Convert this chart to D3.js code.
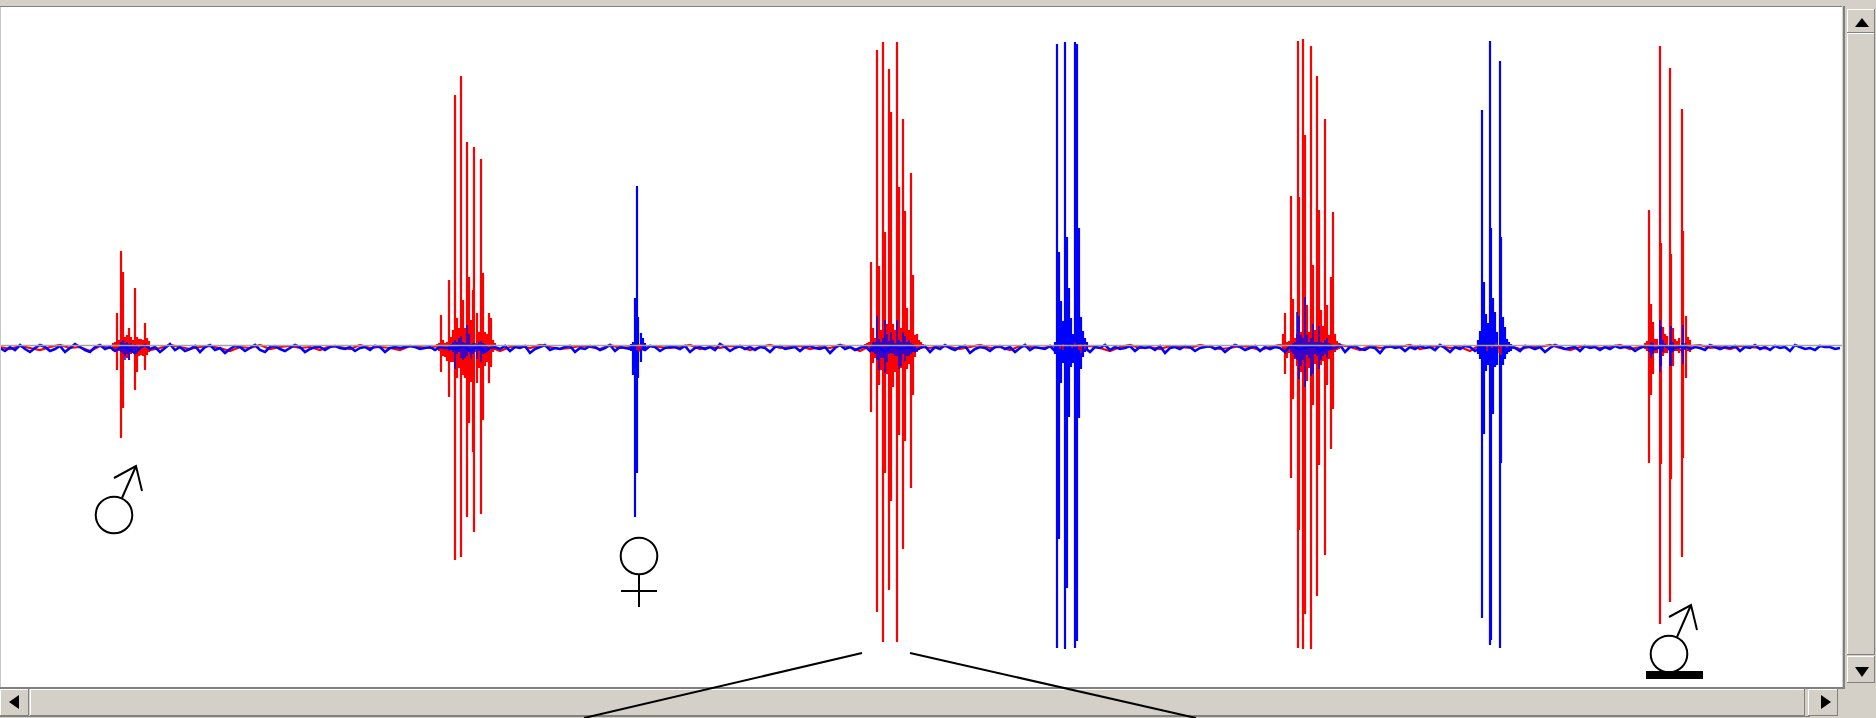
<!DOCTYPE html>
<html>
<head>
<meta charset="utf-8">
<script src="https://cdn.jsdelivr.net/npm/d3@7/dist/d3.min.js"></script>
<style>html,body{margin:0;padding:0;background:#fff;overflow:hidden}svg{display:block;filter:blur(.4px)}</style>
</head>
<body>
<svg id="chart" width="1876" height="718"></svg>
<script>
// Male, male, male and male-on-bar bursts: red channel
const redTimes=[113,115,117,119,121,123,125,127,129,131,133,135,137,139,141,143,145,147,149,
437,439,441,443,445,447,449,451,453,455,457,459,461,463,465,467,469,471,473,474,477,479,481,483,485,487,489,491,493,495,
865,867,869,871,873,875,877,879,881,883,885,887,889,891,893,895,897,899,901,903,905,907,909,911,913,915,917,919,921,923,
1283,1285,1287,1289,1291,1293,1295,1297,1298,1299,1301,1303,1305,1307,1309,1311,1313,1315,1317,1319,1321,1323,1325,1327,1329,1331,1333,1335,1337,1339,
1645,1647,1649,1651,1653,1655,1657,1660,1661,1663,1665,1667,1670,1671,1673,1675,1677,1679,1682,1683,1686,1688,1690];
const redHigh=[3,4,33,6,95,74,9,11,18,9,6,58,9,7,7,6,23,8,5,
2,3,31,6,3,4,66,9,16,251,28,18,270,46,18,204,69,26,56,199,33,14,187,73,14,12,33,28,6,3,
2,3,4,84,18,8,296,80,16,304,114,22,277,234,22,16,304,159,18,227,135,38,16,173,71,11,12,6,4,2,
12,33,4,5,150,47,8,12,305,149,14,307,211,41,14,300,81,16,270,136,36,20,227,41,11,69,134,12,5,3,
3,5,136,42,24,7,7,300,103,19,12,10,278,92,18,7,5,8,237,115,30,9,6];
const redLow=[-5,-6,-24,-5,-92,-62,-10,-12,-14,-8,-7,-44,-26,-10,-9,-10,-24,-9,-6,
-3,-5,-26,-10,-11,-15,-51,-16,-16,-214,-32,-22,-211,-29,-32,-171,-77,-36,-106,-186,-37,-22,-168,-74,-20,-16,-37,-21,-6,-4,
-2,-3,-5,-66,-17,-12,-266,-39,-24,-296,-127,-28,-244,-155,-41,-26,-296,-89,-22,-203,-95,-23,-18,-142,-49,-11,-6,-4,-3,-2,
-4,-28,-12,-7,-132,-53,-13,-20,-302,-184,-26,-303,-268,-35,-22,-303,-59,-18,-250,-119,-19,-15,-209,-39,-13,-103,-63,-6,-4,-3,
-3,-5,-117,-49,-28,-7,-7,-278,-118,-10,-7,-7,-256,-133,-20,-5,-5,-7,-211,-112,-32,-5,-6];

// Blue channel activity inside the red bursts
const blueUnderTimes=[121,123,125,127,129,131,133,135,137,
449,451,453,455,457,459,461,463,465,467,469,471,473,475,477,479,481,483,485,487,
871,873,875,877,879,881,883,885,887,889,891,893,895,897,899,901,903,905,907,909,911,913,915,
1291,1293,1295,1297,1299,1301,1303,1305,1307,1309,1311,1313,1315,1317,1319,1321,1323,1325,1327,1329,1331,
1649,1651,1653,1660,1661,1663,1670,1671,1673,1682,1683,1685];
const blueUnderHigh=[4,6,3,4,2,3,1,2,1,
1,2,4,6,4,8,10,4,3,21,12,2,3,3,2,4,5,3,2,1,
1,4,4,30,7,4,8,26,12,5,14,6,3,26,6,4,14,10,4,6,3,2,1,
1,3,4,34,30,11,8,49,11,4,8,22,4,4,20,4,3,6,8,3,2,
1,4,3,26,20,6,3,20,4,3,21,3];
const blueUnderLow=[-6,-8,-14,-8,-14,-6,-4,-5,-3,
-5,-4,-6,-23,-8,-6,-12,-14,-12,-10,-6,-13,-8,-6,-13,-5,-16,-8,-5,-4,
-4,-6,-8,-14,-24,-12,-12,-27,-16,-8,-7,-8,-10,-10,-23,-20,-8,-15,-10,-10,-8,-6,-4,
-6,-8,-12,-14,-33,-20,-14,-41,-9,-12,-30,-28,-8,-10,-23,-14,-10,-8,-12,-5,-3,
-6,-12,-8,-26,-20,-6,-20,-20,-6,-7,-18,-4];

// Female, and the two blue-only bursts
const blueTimes=[631,633,635,637,638,641,643,645,
1055,1057,1059,1061,1063,1065,1067,1069,1071,1073,1075,1077,1079,1081,1083,1085,1087,
1478,1480,1482,1484,1486,1488,1490,1491,1493,1495,1497,1500,1501,1503,1505,1507,1509,1511];
const blueHigh=[2,4,48,160,29,13,8,3,
4,302,94,45,25,304,109,58,28,12,304,302,118,29,15,8,4,
6,15,236,64,32,23,305,118,48,34,14,285,109,29,19,7,4,2];
const blueLow=[-5,-29,-171,-127,-32,-16,-4,-3,
-8,-302,-193,-37,-17,-303,-242,-71,-21,-17,-302,-295,-72,-23,-11,-6,-4,
-8,-13,-272,-88,-25,-19,-299,-294,-68,-21,-19,-302,-117,-19,-13,-8,-6,-5];

// Small red traces seen on top of the blue-only bursts
const redOverTimes=[637,639,641,1060,1063,1072,1075,1079,1081,1085,1487,1492,1496,1499,1501,1507];
const redOverHigh=[1,2,2,1,2,1,3,2,2,2,1,1,3,1,1,1];
const redOverLow=[-4,-6,-3,-3,-4,-2,-1,-4,-7,-3,-5,-2,-1,-7,-9,-2];

// Background noise of the blue channel, one reading every 5 samples
const blueNoise=[-2,-5,-1,-4,1,-3,-6,-2,1,-1,-5,-3,0,-6,-2,2,-1,-4,-6,-1,
1,-3,-1,-5,-2,0,-4,-7,-2,1,-3,-1,-6,-2,2,-4,-1,-5,-3,0,
-6,-1,1,-4,-2,-7,-3,0,-1,-5,-2,1,-4,-6,-1,0,-3,-5,-2,1,
-1,-6,-3,-1,-1,-4,-1,0,-2,-3,-1,-5,-2,-1,-4,0,-1,-6,-2,-1,
-2,-1,0,-1,-3,-2,-1,-4,-1,-2,-2,-3,-1,0,-5,-2,-1,-6,-2,-1,
-3,0,-5,-1,-2,0,-7,-3,-1,1,-4,-2,-3,-1,0,-6,-2,-3,0,-1,
-4,-2,1,-5,-1,-2,-3,-1,-2,-4,0,-1,-5,-2,-1,-1,-3,0,-6,-2,
-1,-3,-1,-4,2,-1,-5,-2,0,-3,-1,-4,-1,-2,-6,-1,0,-3,-2,-1,
-5,-1,0,-2,-3,-1,-7,-2,1,-3,-1,-4,-2,0,-5,-1,-2,-6,-1,0,
-3,-2,-1,-5,-2,0,-6,-1,-3,1,-2,-4,-1,0,-7,-3,-1,-2,-5,-1,
0,-3,-1,-6,-2,1,-4,-1,-2,-3,0,-5,-2,-1,-4,-1,0,-2,-6,-1,
-2,1,-4,-1,-3,-2,0,-5,-1,-2,-1,-4,0,-7,-2,-1,-3,0,-1,-5,
-2,-1,0,-3,-1,-6,-2,1,-1,-4,-2,0,-5,-1,-3,-1,-2,-6,0,-1,
-4,-2,-1,0,-5,-1,-3,-2,1,-6,-1,0,-3,-4,-1,-2,-7,-1,0,-2,
-1,-5,-1,-3,0,-2,-1,-4,1,-2,-6,-1,-3,0,-1,-5,-2,-1,-1,-3,
0,-4,-1,-2,-5,0,-1,-3,-1,-6,-2,1,-1,-3,-2,-1,-5,0,-2,-1,
-4,-1,-3,0,-2,-1,-1,-5,-2,0,-1,-3,-1,1,-4,-2,-1,0,-3,-1,
-2,-4,1,-1,-3,-1,-2,0,-5,-1,-2,1,-3,-1,-4,0,-2,-1,-5,1,
-1,-3,-2,-4,0,-1,-1,-3,-2];

// Background noise of the red channel, one reading every 10 samples
const redNoise=[-1,-3,0,-2,-4,-1,1,-2,-1,-5,0,-2,-1,-3,0,-4,-2,1,-1,-3,
-1,0,-2,-5,-1,-2,1,-3,-1,0,-2,-1,-4,0,-1,-3,1,-2,-1,-2,
-4,0,-1,-2,1,-3,-1,0,-2,-1,-5,-1,0,-2,1,-1,-3,-2,0,-1,
-3,1,-2,-1,-4,0,-1,-2,-1,1,-3,-1,-2,0,-1,-4,-1,1,-2,-1,
0,-3,-1,-2,1,-1,-5,0,-2,-1,-3,1,-1,-2,0,-1,-3,-1,1,-2,
-1,-4,0,-1,-2,-1,1,-3,-1,0,-2,-5,-1,1,-2,-1,-3,0,-1,-2,
1,-1,-3,-2,0,-1,-4,-1,1,-2,0,-3,-1,-2,1,-1,-4,0,-2,-1,
-1,1,-3,-1,0,-2,-1,-5,1,-1,-2,0,-3,-1,-1,1,-2,-4,-1,0,
-2,-1,1,-3,-1,0,-2,-1,-4,0,1,-2,-1,-3,0,-1,-2,-3];

// Sex symbols drawn under the traces: kind and position on the same scales
const symbolKinds=["male","female","maleBar"];
const symbolTimes=[114,639,1669];
const symbolAmps=[-169,-210,-308];

// Pointer lines leading towards the enlarged view
const pointerTimes=[[862,584],[910,1196]];
const pointerAmps=[[-307,-372],[-307,-372]];

const W=1876,H=718,plotW=1842;
const svg=d3.select("#chart");
const x=d3.scaleLinear().domain([0,plotW]).range([0,plotW]);
const y=d3.scaleLinear().domain([-300,300]).range([646,46]);

const spikes=(sel,times,hi,lo,color,width)=>sel.append("g").selectAll("line")
  .data(times.map((t,i)=>({t,h:hi[i],l:lo[i]}))).join("line")
  .attr("x1",d=>x(d.t)).attr("x2",d=>x(d.t))
  .attr("y1",d=>y(d.h)).attr("y2",d=>y(d.l))
  .attr("stroke",color).attr("stroke-width",width);

const traceLine=d3.line().x(d=>x(d[0])).y(d=>y(d[1]));
const noise=(sel,values,step,color,width)=>sel.append("path")
  .datum(values.map((v,i)=>[i*step,v]))
  .attr("d",traceLine).attr("fill","none").attr("stroke",color).attr("stroke-width",width);

svg.append("rect").attr("width",W).attr("height",H).attr("fill","#fff");
const plot=svg.append("g");
noise(plot,redNoise,10,"#ff0000",2.2);
spikes(plot,redTimes,redHigh,redLow,"#ff0000",2.2);
noise(plot,blueNoise,5,"#0000ff",2.6);
spikes(plot,blueUnderTimes,blueUnderHigh,blueUnderLow,"#0000ff",1.5);
spikes(plot,blueTimes,blueHigh,blueLow,"#0000ff",2.2);
spikes(plot,redOverTimes,redOverHigh,redOverLow,"#ff0000",1.4);
// zero line
plot.append("line").attr("x1",x(0)).attr("x2",x(plotW)).attr("y1",y(0)-0.5).attr("y2",y(0)-0.5)
  .attr("stroke","#a8a0a0").attr("stroke-width",1.3);

// window chrome
const face="#d4d0c8",dark="#808080";
const chrome=svg.append("g");
const rect=(a,b,w,h,c)=>chrome.append("rect").attr("x",a).attr("y",b).attr("width",w).attr("height",h).attr("fill",c);
const tri=(pts)=>chrome.append("path").attr("d","M"+pts.join("L")+"Z").attr("fill","#000");
const button=(a,b,w,h)=>{rect(a,b,w,h,dark);rect(a,b,w-1,h-1,"#fff");rect(a+1,b+1,w-2,h-2,face);};
rect(0,0,W,6,face); rect(0,6,plotW,1,dark);
rect(0,7,1,680,"#c8c8c8");
rect(plotW,0,W-plotW,H,face); rect(plotW+1,6,2,682,dark);
rect(0,688,W,30,face); rect(0,687,plotW+3,2,dark); rect(0,716,1810,1,dark);
button(1847,9,28,24); tri([[1855,27],[1869,27],[1862,18]]);
button(1847,33,28,622);
button(1847,656,28,27); tri([[1855,667],[1869,667],[1862,677]]);
button(0,689,29,27); tri([[19,695],[19,709],[9,702]]);
button(30,689,1775,27);
button(1808,689,30,27); tri([[1821,695],[1821,709],[1831,702]]);

// pointers drawn over the frame
const overlay=svg.append("g").attr("fill","none").attr("stroke","#000").attr("stroke-width",2);
pointerTimes.forEach((ts,i)=>overlay.append("line")
  .attr("x1",x(ts[0])).attr("y1",y(pointerAmps[i][0]))
  .attr("x2",x(ts[1])).attr("y2",y(pointerAmps[i][1])));

// sex symbols
symbolKinds.forEach((k,i)=>{
  const g=overlay.append("g").attr("transform",`translate(${x(symbolTimes[i])},${y(symbolAmps[i])})`);
  g.append("circle").attr("r",18.3);
  if(k==="female"){
    g.append("path").attr("d","M0,18V51M-18,35H18");
  }else{
    g.append("path").attr("d","M8,-17L22,-49M0,-37L22,-49L28,-24");
  }
  if(k==="maleBar"){
    g.append("rect").attr("x",-23).attr("y",17).attr("width",57).attr("height",8).attr("fill","#000").attr("stroke","none");
  }
});
</script>
</body>
</html>
